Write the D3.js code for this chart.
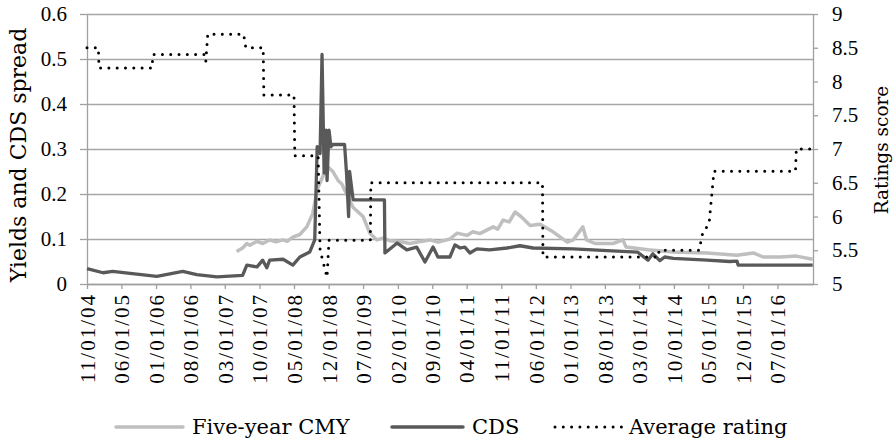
<!DOCTYPE html>
<html>
<head>
<meta charset="utf-8">
<script src="https://cdn.jsdelivr.net/npm/d3@7"></script>
<style>
body{margin:0;background:#fff;}
.tick text{font-family:"Liberation Serif",serif;font-size:21px;fill:#000;}
.axis path,.axis line{stroke:#a0a0a0;stroke-width:1.3;}
.grid line{stroke:#a6a6a6;stroke-width:1.3;}
.grid path{display:none;}
.title,.legend text{font-family:"DejaVu Serif",serif;fill:#000;}
</style>
</head>
<body>
<div id="canvas"></div>
<script>
// data
var startDate = '2004-11-01',
    endDate = '2017-02-05';

var tickLabels = ['11/01/04','06/01/05','01/01/06','08/01/06','03/01/07','10/01/07','05/01/08',
    '12/01/08','07/01/09','02/01/10','09/01/10','04/01/11','11/01/11','06/01/12','01/01/13',
    '08/01/13','03/01/14','10/01/14','05/01/15','12/01/15','07/01/16'];
var leftTicks = [0,0.1,0.2,0.3,0.4,0.5,0.6];
var rightTicks = [5,5.5,6,6.5,7,7.5,8,8.5,9];

var seriesNames = ['Five-year CMY','CDS','Average rating'];

var cmy = [
    ['2007-05-13',0.072],['2007-06-19',0.080],['2007-07-15',0.090],['2007-08-03',0.086],
    ['2007-09-16',0.095],['2007-10-21',0.090],['2007-12-03',0.098],['2008-01-10',0.094],
    ['2008-02-24',0.098],['2008-03-20',0.095],['2008-04-24',0.104],['2008-06-06',0.110],
    ['2008-07-19',0.127],['2008-08-25',0.157],['2008-09-21',0.210],['2008-10-27',0.240],
    ['2008-11-20',0.262],['2008-12-27',0.250],['2009-01-28',0.230],['2009-02-20',0.222],
    ['2009-03-21',0.200],['2009-05-01',0.170],['2009-07-01',0.150],['2009-08-12',0.113],
    ['2009-09-25',0.098],['2009-11-01',0.102],['2009-12-15',0.096],['2010-02-20',0.094],
    ['2010-04-16',0.090],['2010-06-10',0.094],['2010-08-18',0.098],['2010-10-06',0.093],
    ['2010-12-19',0.100],['2011-02-02',0.113],['2011-04-03',0.108],['2011-05-10',0.116],
    ['2011-06-21',0.112],['2011-09-12',0.127],['2011-10-10',0.122],['2011-11-12',0.142],
    ['2011-12-20',0.138],['2012-01-25',0.160],['2012-03-01',0.150],['2012-04-27',0.130],
    ['2012-06-27',0.133],['2012-09-15',0.116],['2012-12-12',0.093],['2013-01-18',0.098],
    ['2013-03-18',0.127],['2013-04-10',0.098],['2013-06-01',0.090],['2013-09-21',0.090],
    ['2013-11-20',0.098],['2013-12-10',0.082],['2014-04-24',0.076],['2014-09-27',0.071],
    ['2015-04-24',0.069],['2015-10-25',0.064],['2016-02-03',0.069],['2016-04-03',0.060],
    ['2016-07-18',0.060],['2016-10-25',0.062],['2017-02-03',0.055]
];

var cds = [
    ['2004-11-01',0.034],['2005-02-08',0.025],['2005-04-08',0.028],['2005-09-04',0.022],
    ['2006-01-06',0.017],['2006-06-15',0.028],['2006-09-09',0.021],['2007-01-12',0.016],
    ['2007-06-19',0.019],['2007-07-15',0.042],['2007-09-16',0.038],['2007-10-21',0.053],
    ['2007-11-15',0.036],['2007-12-03',0.053],['2008-02-24',0.055],['2008-04-24',0.042],
    ['2008-06-06',0.060],['2008-08-06',0.071],['2008-09-06',0.098],['2008-09-21',0.305],
    ['2008-10-09',0.290],['2008-10-21',0.510],['2008-11-03',0.247],['2008-11-15',0.342],
    ['2008-11-21',0.230],['2008-12-03',0.342],['2008-12-15',0.305],['2008-12-27',0.310],
    ['2009-03-09',0.310],['2009-03-21',0.247],['2009-04-03',0.150],['2009-04-09',0.250],
    ['2009-05-01',0.187],['2009-11-10',0.187],['2009-11-13',0.069],['2010-01-28',0.091],
    ['2010-03-28',0.076],['2010-05-28',0.082],['2010-07-18',0.049],['2010-09-06',0.082],
    ['2010-10-06',0.060],['2010-12-19',0.060],['2011-01-19',0.087],['2011-02-20',0.080],
    ['2011-03-21',0.082],['2011-04-21',0.069],['2011-06-03',0.078],['2011-08-21',0.076],
    ['2011-12-06',0.080],['2012-02-24',0.085],['2012-05-15',0.080],['2013-01-18',0.078],
    ['2013-08-15',0.074],['2014-02-18',0.071],['2014-04-24',0.053],['2014-05-24',0.067],
    ['2014-07-06',0.052],['2014-08-05',0.060],['2014-09-27',0.057],['2015-04-24',0.053],
    ['2015-09-10',0.050],['2015-10-25',0.051],['2015-11-01',0.042],['2017-02-03',0.042]
];

var rating = [
    ['2004-11-01',8.5],['2005-01-10',8.5],['2005-01-14',8.2],['2005-12-08',8.2],
    ['2005-12-12',8.4],['2006-11-01',8.4],['2006-11-04',8.3],['2006-11-16',8.7],
    ['2007-06-25',8.7],['2007-07-09',8.5],['2007-10-24',8.5],['2007-10-28',7.8],
    ['2008-05-01',7.8],['2008-05-06',6.9],['2008-09-27',6.9],['2008-10-09',5.5],
    ['2008-11-21',5.1],['2008-12-03',5.65],['2009-08-15',5.65],['2009-08-18',6.5],
    ['2012-07-12',6.5],['2012-07-15',5.4],['2014-06-28',5.4],['2014-07-01',5.5],
    ['2015-03-05',5.5],['2015-03-27',5.75],['2015-05-06',5.9],['2015-06-05',6.67],
    ['2016-10-20',6.67],['2016-10-25',7.0],['2017-02-03',7.0]
];

var m = {t:14,r:83,b:160,l:87};
var outerWidth = 896, outerHeight = 444;
var w = outerWidth - m.l - m.r,
    h = outerHeight - m.t - m.b;

var svg = d3.select('#canvas')
    .append('svg')
    .attr('width',outerWidth)
    .attr('height',outerHeight);
var plot = svg.append('g')
    .attr('transform','translate(' + m.l + ',' + m.t + ')');

var parseDate = d3.timeParse('%Y-%m-%d'),
    parseTick = d3.timeParse('%m/%d/%y');

var scaleX = d3.scaleTime().domain([parseDate(startDate), parseDate(endDate)]).range([0,w]),
    scaleY = d3.scaleLinear().domain([0,0.6]).range([h,0]),
    scaleR = d3.scaleLinear().domain([5,9]).range([h,0]);

var plain = function(d){return String(d);};

//gridlines
plot.append('g').attr('class','grid')
    .call(d3.axisLeft(scaleY).tickValues(leftTicks).tickSize(-w).tickFormat(''));

//axes
plot.append('g').attr('class','axis axis-y')
    .call(d3.axisLeft(scaleY).tickValues(leftTicks).tickFormat(plain)
        .tickSize(7).tickSizeOuter(0).tickPadding(13));

plot.append('g').attr('class','axis axis-r')
    .attr('transform','translate(' + w + ',0)')
    .call(d3.axisRight(scaleR).tickValues(rightTicks).tickFormat(plain)
        .tickSize(5).tickSizeOuter(0).tickPadding(14));

var axisX = plot.append('g').attr('class','axis axis-x')
    .attr('transform','translate(0,' + h + ')')
    .call(d3.axisBottom(scaleX)
        .tickValues(tickLabels.map(parseTick))
        .tickSize(5).tickSizeOuter(0)
        .tickFormat(d3.timeFormat('%m/%d/%y')));
axisX.selectAll('text')
    .attr('transform','rotate(-90)')
    .attr('text-anchor','end')
    .attr('x',-9)
    .attr('y',0)
    .attr('dy','0.35em')
    .style('letter-spacing','2px');

//lines
var lineL = d3.line()
    .x(function(d){return scaleX(parseDate(d[0]));})
    .y(function(d){return scaleY(d[1]);});
var lineR = d3.line()
    .x(function(d){return scaleX(parseDate(d[0]));})
    .y(function(d){return scaleR(d[1]);});

plot.append('path').datum(cmy)
    .attr('d',lineL)
    .attr('fill','none')
    .attr('stroke','#bfbfbf')
    .attr('stroke-width',3.5)
    .attr('stroke-linejoin','round');

plot.append('path').datum(cds)
    .attr('d',lineL)
    .attr('fill','none')
    .attr('stroke','#595959')
    .attr('stroke-width',3.3)
    .attr('stroke-linejoin','round');

plot.append('path').datum(rating)
    .attr('d',lineR)
    .attr('fill','none')
    .attr('stroke','#000')
    .attr('stroke-width',3)
    .attr('stroke-linecap','round')
    .attr('stroke-dasharray','0,8.3');

//axis titles
svg.append('text').attr('class','title')
    .attr('transform','rotate(-90)')
    .attr('x',-155).attr('y',26)
    .attr('text-anchor','middle')
    .style('font-size','22px')
    .text('Yields and CDS spread');

svg.append('text').attr('class','title')
    .attr('transform','rotate(-90)')
    .attr('x',-150).attr('y',888)
    .attr('text-anchor','middle')
    .style('font-size','18.5px')
    .text('Ratings score');

//legend
var legendX = [116,392,555],
    legendLen = [67,71,68],
    styles = [
        {stroke:'#bfbfbf',width:3.5,dash:null},
        {stroke:'#595959',width:3.5,dash:null},
        {stroke:'#000',width:3,dash:'0,8.3'}
    ];
var legend = svg.append('g').attr('class','legend');
seriesNames.forEach(function(name,i){
    legend.append('line')
        .attr('x1',legendX[i]).attr('x2',legendX[i] + legendLen[i])
        .attr('y1',427).attr('y2',427)
        .attr('stroke',styles[i].stroke)
        .attr('stroke-width',styles[i].width)
        .attr('stroke-linecap','round')
        .attr('stroke-dasharray',styles[i].dash);
    legend.append('text')
        .attr('x',legendX[i] + legendLen[i] + (i==2?6:9))
        .attr('y',434)
        .style('font-size','21px')
        .text(name);
});
</script>
</body>
</html>
